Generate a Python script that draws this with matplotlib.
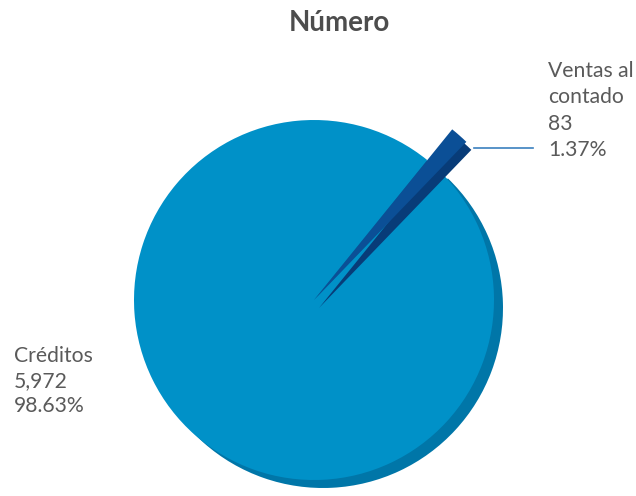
import matplotlib
matplotlib.use("Agg")
import matplotlib.pyplot as plt

# data
labels = ["Créditos", "Ventas al\ncontado"]
counts = [5972, 83]
shares = ["98.63%", "1.37%"]

MAIN, MAIN_SIDE = "#0091c8", "#0076a8"
DARK, DARK_SIDE = "#0b4f96", "#083c78"
TEXT = "#5a5a5a"

plt.rcParams["font.family"] = ["Lato", "DejaVu Sans"]

fig = plt.figure(figsize=(6.36, 4.96), dpi=100)
ax = fig.add_axes([0, 0, 1, 1])

cx, cy, R = 314, 196, 180
start = 51

# 3d rim of the big slice, then its top face
ax.pie(counts, colors=[MAIN_SIDE, "none"], center=(cx + 9, cy - 8), radius=R,
       startangle=start, wedgeprops=dict(linewidth=0))
ax.pie(counts, colors=[MAIN, "none"], center=(cx, cy), radius=R,
       startangle=start, wedgeprops=dict(linewidth=0))
# small slice pulled out beyond the rim
ax.pie(counts, colors=["none", DARK_SIDE], center=(cx + 5, cy - 8), radius=R * 1.22,
       startangle=start, wedgeprops=dict(linewidth=0))
ax.pie(counts, colors=["none", DARK], center=(cx, cy), radius=R * 1.22,
       startangle=start, wedgeprops=dict(linewidth=0))

ax.plot([474, 533], [348, 348], color="#3b80bf", lw=1.2)

# labels
ventas = labels[1].split("\n") + [f"{counts[1]:,}", shares[1]]
for i, s in enumerate(ventas):
    ax.text(548, 496 - (77 + 26.3 * i), s, fontsize=15.2, color=TEXT, va="baseline")
creditos = [labels[0], f"{counts[0]:,}", shares[0]]
for i, s in enumerate(creditos):
    ax.text(14, 496 - (362 + 25 * i), s, fontsize=15.2, color=TEXT, va="baseline")

ax.text(339, 496 - 23, "Número", fontsize=20, fontweight="bold", color="#4d4d4d",
        ha="center", va="center")

ax.set_xlim(0, 636)
ax.set_ylim(0, 496)
ax.set_aspect("equal")
ax.axis("off")
fig.savefig("out.png", dpi=100)
